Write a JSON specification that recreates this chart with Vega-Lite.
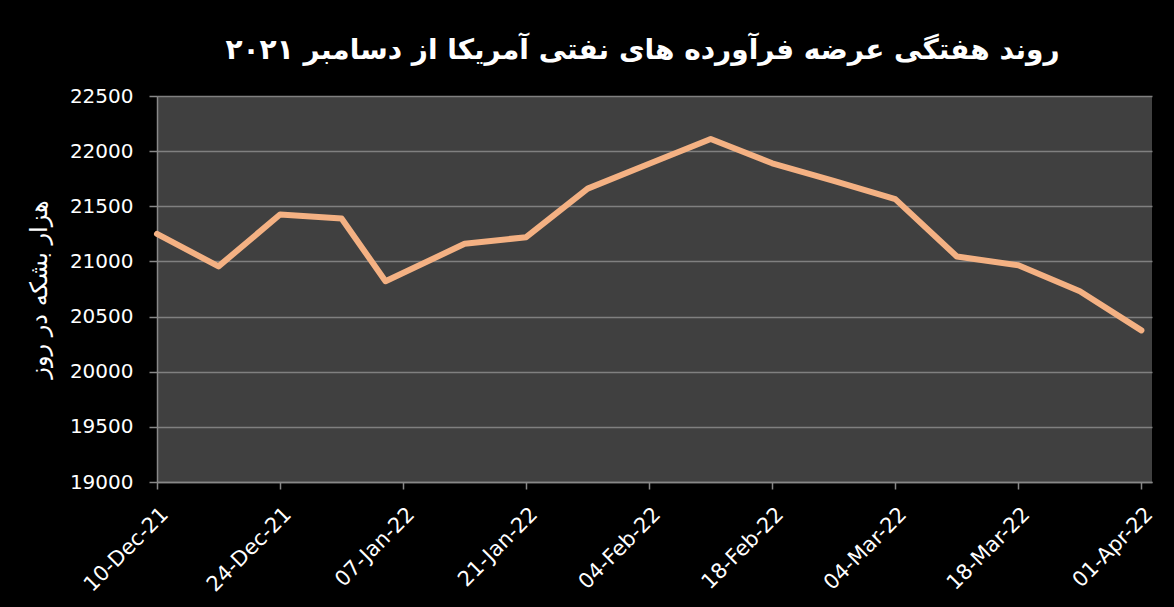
{
  "$schema": "https://vega.github.io/schema/vega-lite/v6.json",
  "width": 995,
  "height": 386,
  "autosize": {"type": "none"},
  "padding": {"left": 157, "top": 96, "right": 22, "bottom": 125},
  "background": "#000000",
  "title": {
    "text": "روند هفتگی عرضه فرآورده های نفتی آمریکا از دسامبر ۲۰۲۱",
    "font": "DejaVu Sans",
    "fontSize": 28,
    "fontWeight": "bold",
    "color": "#ffffff",
    "anchor": "middle",
    "offset": 21,
    "dx": -12
  },
  "config": {"view": {"fill": "#404040", "stroke": null}},
  "data": {
    "values": [
      {"date": "2021-12-10", "value": 21250},
      {"date": "2021-12-17", "value": 20955},
      {"date": "2021-12-24", "value": 21425},
      {"date": "2021-12-31", "value": 21390},
      {"date": "2022-01-05", "value": 20820},
      {"date": "2022-01-14", "value": 21160},
      {"date": "2022-01-21", "value": 21220},
      {"date": "2022-01-28", "value": 21660},
      {"date": "2022-02-04", "value": 21885},
      {"date": "2022-02-11", "value": 22110},
      {"date": "2022-02-18", "value": 21890},
      {"date": "2022-02-25", "value": 21730},
      {"date": "2022-03-04", "value": 21565},
      {"date": "2022-03-11", "value": 21045},
      {"date": "2022-03-18", "value": 20965},
      {"date": "2022-03-25", "value": 20730},
      {"date": "2022-04-01", "value": 20375}
    ]
  },
  "mark": {"type": "line", "color": "#F4B183", "strokeWidth": 6, "strokeCap": "round", "strokeJoin": "round"},
  "encoding": {
    "x": {
      "field": "date",
      "type": "temporal",
      "scale": {
        "type": "utc",
        "domain": [
          {"year": 2021, "month": 12, "date": 10, "utc": true},
          {"year": 2022, "month": 4, "date": 2, "hours": 5, "utc": true}
        ]
      },
      "axis": {
        "values": [
          {"year": 2021, "month": 12, "date": 10, "utc": true},
          {"year": 2021, "month": 12, "date": 24, "utc": true},
          {"year": 2022, "month": 1, "date": 7, "utc": true},
          {"year": 2022, "month": 1, "date": 21, "utc": true},
          {"year": 2022, "month": 2, "date": 4, "utc": true},
          {"year": 2022, "month": 2, "date": 18, "utc": true},
          {"year": 2022, "month": 3, "date": 4, "utc": true},
          {"year": 2022, "month": 3, "date": 18, "utc": true},
          {"year": 2022, "month": 4, "date": 1, "utc": true}
        ],
        "labelExpr": "utcFormat(datum.value, '%d-%b-%y')",
        "title": null,
        "grid": false,
        "labelAngle": -45,
        "labelFont": "DejaVu Sans",
        "labelFontSize": 21,
        "labelColor": "#ffffff",
        "labelPadding": 14,
        "labelOverlap": false,
        "labelFlush": false,
        "tickSize": 7,
        "tickColor": "#888888",
        "tickWidth": 1.5,
        "domainColor": "#888888",
        "domainWidth": 1.5
      }
    },
    "y": {
      "field": "value",
      "type": "quantitative",
      "scale": {"domain": [19000, 22500], "nice": false, "zero": false},
      "axis": {
        "values": [19000, 19500, 20000, 20500, 21000, 21500, 22000, 22500],
        "format": "d",
        "title": "هزار بشکه در روز",
        "titleFont": "DejaVu Sans",
        "titleFontSize": 24,
        "titleFontWeight": "normal",
        "titleColor": "#ffffff",
        "titlePadding": 18,
        "grid": true,
        "gridColor": "#808080",
        "gridWidth": 1.5,
        "labelFont": "DejaVu Sans",
        "labelFontSize": 20,
        "labelColor": "#ffffff",
        "labelPadding": 16,
        "tickSize": 8,
        "tickColor": "#888888",
        "tickWidth": 1.5,
        "domainColor": "#888888",
        "domainWidth": 1.5
      }
    }
  }
}
